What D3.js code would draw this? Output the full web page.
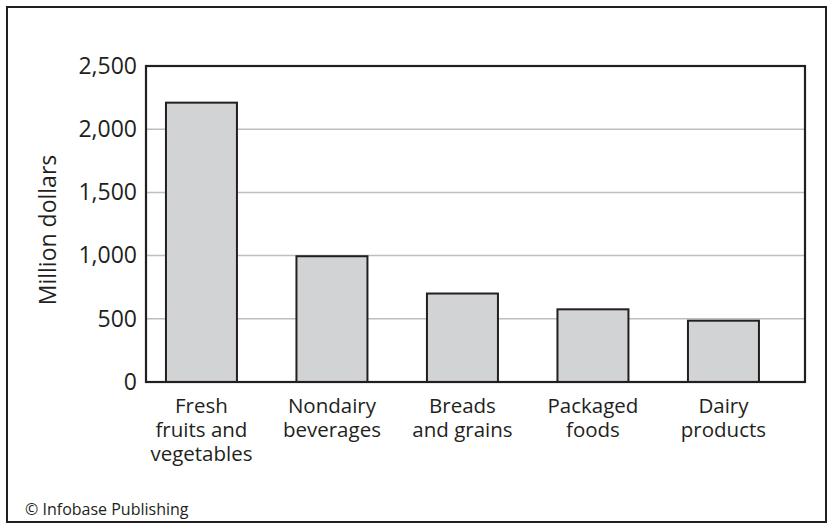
<!DOCTYPE html>
<html>
<head>
<meta charset="utf-8">
<script src="https://cdn.jsdelivr.net/npm/d3@7"></script>
<style>
  html, body { margin: 0; padding: 0; background: #fff; }
  svg { display: block; }
  text { font-family: "Open Sans", "Noto Sans", sans-serif; fill: #231f20; }
</style>
</head>
<body>
<svg id="chart" width="830" height="527"></svg>
<script>
const categories = [
  ["Fresh", "fruits and", "vegetables"],
  ["Nondairy", "beverages"],
  ["Breads", "and grains"],
  ["Packaged", "foods"],
  ["Dairy", "products"]
];
const values = [2210, 995, 700, 575, 485];
const yTicks = [0, 500, 1000, 1500, 2000, 2500];
const yLabel = "Million dollars";
const credit = "© Infobase Publishing";

const svg = d3.select("#chart");

// outer frame
svg.append("rect")
  .attr("x", 7).attr("y", 7).attr("width", 819).attr("height", 515)
  .attr("fill", "none").attr("stroke", "#231f20").attr("stroke-width", 2);

const plot = { left: 146, right: 805, top: 66, bottom: 382 };
const keys = categories.map(c => c.join(" "));

const x = d3.scaleBand()
  .domain(keys)
  .range([136.2, 788.7])
  .paddingInner(0.456)
  .paddingOuter(0.228);

const y = d3.scaleLinear().domain([0, 2500]).range([plot.bottom, plot.top]);

// gridlines
svg.append("g")
  .selectAll("line")
  .data(yTicks.filter(t => t > 0 && t < 2500))
  .join("line")
  .attr("x1", plot.left).attr("x2", plot.right)
  .attr("y1", d => y(d)).attr("y2", d => y(d))
  .attr("stroke", "#bcbec0").attr("stroke-width", 1.5);

// bars
svg.append("g")
  .selectAll("rect")
  .data(values)
  .join("rect")
  .attr("x", (d, i) => x(keys[i]))
  .attr("width", x.bandwidth())
  .attr("y", d => y(d))
  .attr("height", d => y(0) - y(d))
  .attr("fill", "#d1d3d4")
  .attr("stroke", "#231f20")
  .attr("stroke-width", 2);

// plot frame
svg.append("rect")
  .attr("x", plot.left).attr("y", plot.top)
  .attr("width", plot.right - plot.left).attr("height", plot.bottom - plot.top)
  .attr("fill", "none").attr("stroke", "#231f20").attr("stroke-width", 2.2);

// y axis tick labels
const yAxis = d3.axisLeft(y).tickValues(yTicks).tickSize(0).tickPadding(9)
  .tickFormat(d3.format(","));
const gy = svg.append("g").attr("transform", `translate(${plot.left},0)`).call(yAxis);
gy.select(".domain").remove();
gy.selectAll("text")
  .attr("font-size", 23)
  .attr("font-family", "'Open Sans', sans-serif")
  .attr("fill", "#231f20");

// x category labels
const xl = svg.append("g");
categories.forEach((lines, i) => {
  const cx = x(keys[i]) + x.bandwidth() / 2;
  const t = xl.append("text")
    .attr("text-anchor", "middle")
    .attr("font-size", 20.5);
  lines.forEach((ln, j) => {
    t.append("tspan").attr("x", cx).attr("y", 413 + j * 24).text(ln);
  });
});

// y label
svg.append("text")
  .attr("transform", `translate(56,${(plot.top + plot.bottom) / 2 + 6}) rotate(-90)`)
  .attr("text-anchor", "middle")
  .attr("font-size", 23)
  .text(yLabel);

// credit
svg.append("text")
  .attr("x", 25).attr("y", 515)
  .attr("font-size", 16)
  .text(credit);
</script>
</body>
</html>
